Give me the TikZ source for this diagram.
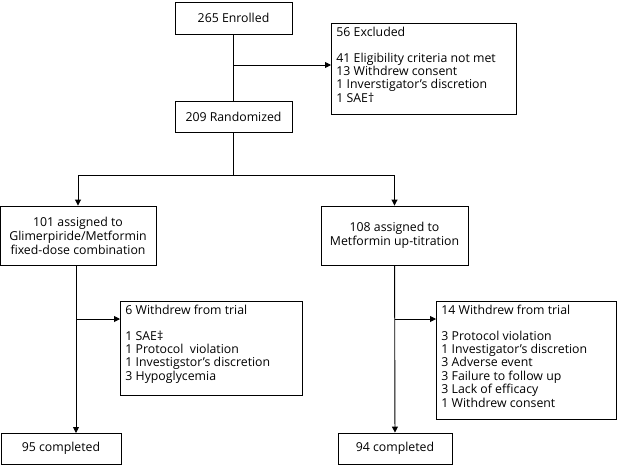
\documentclass[tikz,border=0pt]{standalone}
\usepackage{fontspec}
\setmainfont{Open Sans}
\usetikzlibrary{arrows.meta}
\begin{document}
\begin{tikzpicture}[x=1pt,y=-1pt,
  box/.style={draw,line width=0.9pt,inner sep=0pt,font=\fontsize{12.3}{14}\selectfont},
  cbox/.style={box,align=center},
  lbox/.style={box,anchor=north west},
  ln/.style={line width=0.9pt},
  arr/.style={ln,-{Triangle[length=6pt,width=6pt]}}]
\useasboundingbox (0,0) rectangle (620,466);
\newcommand{\lb}[3]{\parbox[t][#2pt][t]{#1pt}{\vspace{4pt}\hspace*{5pt}\begin{tabular}[t]{@{}l@{}}#3\end{tabular}}}
\renewcommand{\arraystretch}{0.95}
\node[cbox,minimum width=117pt,minimum height=32pt] (enr) at (233.5,18) {265 Enrolled};
\node[lbox] (exc) at (331,23) {\lb{185}{91}{56 Excluded\\[12pt]41 Eligibility criteria not met\\13 Withdrew consent\\1 Inverstigator’s discretion\\1 SAE†}};
\node[cbox,minimum width=117pt,minimum height=31pt] (ran) at (233.5,116.5) {209 Randomized};
\node[cbox,minimum width=156pt,minimum height=59pt] (g1) at (78,235.5) {101 assigned to\\Glimerpiride/Metformin\\fixed-dose combination};
\node[cbox,minimum width=147pt,minimum height=59pt] (g2) at (394.5,235.5) {108 assigned to\\Metformin up-titration};
\node[lbox] (w1) at (120,301) {\lb{182}{94}{6 Withdrew from trial\\[12pt]1 SAE‡\\1 Protocol~ violation\\1 Investigstor’s discretion\\3 Hypoglycemia}};
\node[lbox] (w2) at (436,301) {\lb{180}{118}{14 Withdrew from trial\\[12pt]3 Protocol violation\\1 Investigator’s discretion\\3 Adverse event\\3 Failure to follow up\\3 Lack of efficacy\\1 Withdrew consent}};
\node[cbox,minimum width=120pt,minimum height=31pt] (c1) at (61,448.5) {95 completed};
\node[cbox,minimum width=114pt,minimum height=31pt] (c2) at (395,448.5) {94 completed};
\coordinate (s) at (233.5,175);
\draw[ln] (enr) -- (ran);
\draw[arr] (233.5,65) -- (exc.west |- 0,65);
\draw[ln] (ran) -- (s);
\draw[arr] (s) -| (g1.north);
\draw[arr] (s) -| (g2.north);
\draw[arr] (g1.south -| 76,0) -- (76,433);
\draw[arr] (76,319) -- (w1.west |- 0,319);
\draw[arr] (g2) -- (c2);
\draw[arr] (395,319) -- (w2.west |- 0,319);
\end{tikzpicture}
\end{document}
